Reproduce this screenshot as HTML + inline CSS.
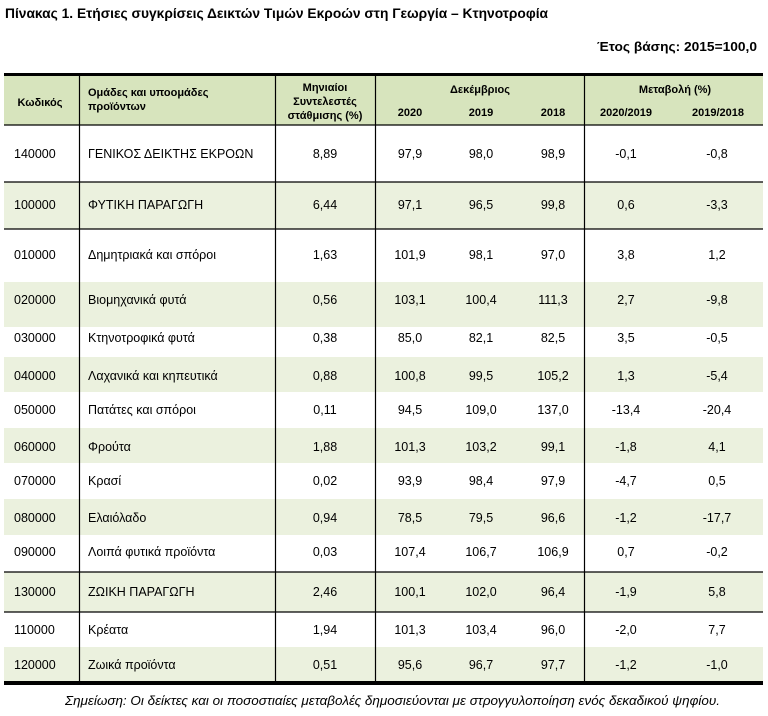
<!DOCTYPE html>
<html><head><meta charset="utf-8"><style>
html,body{margin:0;padding:0;background:#fff;}
svg{display:block;font-family:"Liberation Sans","DejaVu Sans",sans-serif;}
</style></head><body>
<svg width="768" height="716" viewBox="0 0 768 716" xmlns="http://www.w3.org/2000/svg">
<text x="5" y="18" font-size="14" font-weight="bold" textLength="543" lengthAdjust="spacingAndGlyphs">Πίνακας 1. Ετήσιες συγκρίσεις Δεικτών Τιμών Εκροών στη Γεωργία – Κτηνοτροφία</text>
<text x="597" y="51" font-size="13" font-weight="bold" textLength="160" lengthAdjust="spacingAndGlyphs">Έτος βάσης: 2015=100,0</text>
<!-- header bg -->
<rect x="4" y="74" width="759" height="51" fill="#d7e4bd"/>
<!-- stripes -->
<g fill="#ebf1de">
<rect x="4" y="182" width="759" height="47"/>
<rect x="4" y="282" width="759" height="45"/>
<rect x="4" y="357" width="759" height="35"/>
<rect x="4" y="428" width="759" height="35"/>
<rect x="4" y="499" width="759" height="36"/>
<rect x="4" y="572" width="759" height="40"/>
<rect x="4" y="647" width="759" height="35"/>
</g>
<!-- lines -->
<rect x="4" y="73" width="759" height="3" fill="#000"/>
<rect x="4" y="681" width="759" height="4" fill="#000"/>
<g stroke="#000" stroke-width="1.2">
<line x1="4" y1="125" x2="763" y2="125"/>
<line x1="4" y1="182" x2="763" y2="182"/>
<line x1="4" y1="229" x2="763" y2="229"/>
<line x1="4" y1="572" x2="763" y2="572"/>
<line x1="4" y1="612" x2="763" y2="612"/>
<line x1="79.5" y1="75" x2="79.5" y2="682"/>
<line x1="275.5" y1="75" x2="275.5" y2="682"/>
<line x1="375.5" y1="75" x2="375.5" y2="682"/>
<line x1="584.5" y1="75" x2="584.5" y2="682"/>
</g>
<!-- header text -->
<g font-size="11" font-weight="bold">
<text x="40" y="106" text-anchor="middle">Κωδικός</text>
<text x="88" y="96">Ομάδες και υποομάδες</text>
<text x="88" y="110">προϊόντων</text>
<text x="325" y="91" text-anchor="middle">Μηνιαίοι</text>
<text x="325" y="105" text-anchor="middle">Συντελεστές</text>
<text x="325" y="119" text-anchor="middle">στάθμισης (%)</text>
<text x="480" y="93" text-anchor="middle">Δεκέμβριος</text>
<text x="410" y="116" text-anchor="middle">2020</text>
<text x="481" y="116" text-anchor="middle">2019</text>
<text x="553" y="116" text-anchor="middle">2018</text>
<text x="675" y="93" text-anchor="middle">Μεταβολή (%)</text>
<text x="626" y="116" text-anchor="middle">2020/2019</text>
<text x="718" y="116" text-anchor="middle">2019/2018</text>
</g>
<g font-size="12.5" id="rows">
</g>
<script>
var rows=[
[158,"140000","ΓΕΝΙΚΟΣ ΔΕΙΚΤΗΣ ΕΚΡΟΩΝ","8,89","97,9","98,0","98,9","-0,1","-0,8"],
[209,"100000","ΦΥΤΙΚΗ ΠΑΡΑΓΩΓΗ","6,44","97,1","96,5","99,8","0,6","-3,3"],
[259,"010000","Δημητριακά και σπόροι","1,63","101,9","98,1","97,0","3,8","1,2"],
[304,"020000","Βιομηχανικά φυτά","0,56","103,1","100,4","111,3","2,7","-9,8"],
[342,"030000","Κτηνοτροφικά φυτά","0,38","85,0","82,1","82,5","3,5","-0,5"],
[380,"040000","Λαχανικά και κηπευτικά","0,88","100,8","99,5","105,2","1,3","-5,4"],
[414,"050000","Πατάτες και σπόροι","0,11","94,5","109,0","137,0","-13,4","-20,4"],
[451,"060000","Φρούτα","1,88","101,3","103,2","99,1","-1,8","4,1"],
[485,"070000","Κρασί","0,02","93,9","98,4","97,9","-4,7","0,5"],
[522,"080000","Ελαιόλαδο","0,94","78,5","79,5","96,6","-1,2","-17,7"],
[556,"090000","Λοιπά φυτικά προϊόντα","0,03","107,4","106,7","106,9","0,7","-0,2"],
[596,"130000","ΖΩΙΚΗ ΠΑΡΑΓΩΓΗ","2,46","100,1","102,0","96,4","-1,9","5,8"],
[634,"110000","Κρέατα","1,94","101,3","103,4","96,0","-2,0","7,7"],
[669,"120000","Ζωικά προϊόντα","0,51","95,6","96,7","97,7","-1,2","-1,0"]];
var xs=[null,14,88,325,410,481,553,626,717];
var g=document.getElementById("rows"),ns="http://www.w3.org/2000/svg";
rows.forEach(function(r){for(var i=1;i<9;i++){var t=document.createElementNS(ns,"text");t.setAttribute("x",xs[i]);t.setAttribute("y",r[0]);if(i>2)t.setAttribute("text-anchor","middle");t.textContent=r[i];g.appendChild(t);}});
</script>
<text x="65" y="705" font-size="12.5" font-style="italic" textLength="655" lengthAdjust="spacingAndGlyphs">Σημείωση: Οι δείκτες και οι ποσοστιαίες μεταβολές δημοσιεύονται με στρογγυλοποίηση ενός δεκαδικού ψηφίου.</text>
</svg>
</body></html>
